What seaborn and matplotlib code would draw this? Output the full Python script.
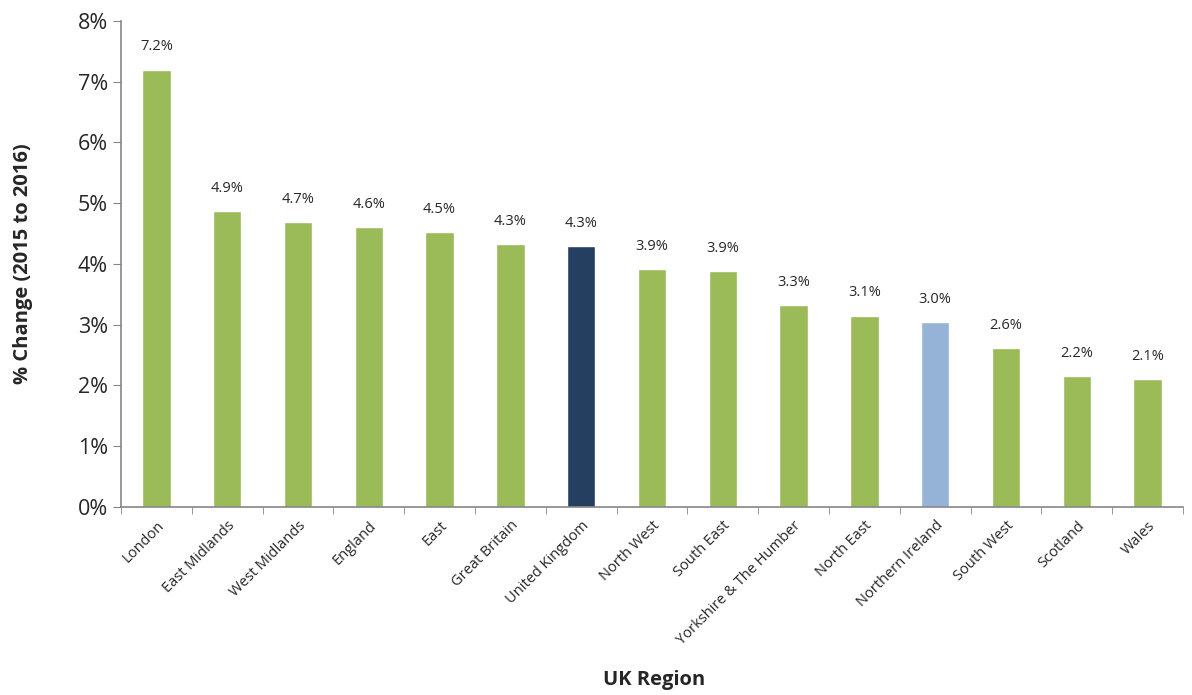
import pandas as pd
import seaborn as sns
from matplotlib import pyplot as plt
from matplotlib.ticker import FixedLocator, PercentFormatter

regions = ["London", "East Midlands", "West Midlands", "England", "East",
           "Great Britain", "United Kingdom", "North West", "South East",
           "Yorkshire & The Humber", "North East", "Northern Ireland",
           "South West", "Scotland", "Wales"]
change = [7.2, 4.87, 4.69, 4.61, 4.52, 4.33, 4.30, 3.91, 3.88, 3.32, 3.15,
          3.05, 2.61, 2.16, 2.11]
labels = ["7.2%", "4.9%", "4.7%", "4.6%", "4.5%", "4.3%", "4.3%", "3.9%",
          "3.9%", "3.3%", "3.1%", "3.0%", "2.6%", "2.2%", "2.1%"]

green = "#9BBB59"
colors = {r: green for r in regions}
colors["United Kingdom"] = "#243F60"
colors["Northern Ireland"] = "#95B3D7"

df = pd.DataFrame({"region": regions, "change": change})

sns.set_style("white")
plt.rcParams["font.family"] = ["Open Sans", "DejaVu Sans"]

fig = plt.figure(figsize=(11.92, 6.95), dpi=100)
ax = fig.add_axes([0.1015, 0.2705, 0.891, 0.6993])

sns.barplot(data=df, x="region", y="change", hue="region", palette=colors,
            legend=False, width=0.4, saturation=1, ax=ax)

for i, (v, t) in enumerate(zip(change, labels)):
    ax.text(i, v + 0.25, t, ha="center", va="bottom", fontsize=10.5)

ax.set_ylim(0, 8)
ax.set_xlim(-0.5, len(regions) - 0.5)
ax.set_yticks(range(0, 9))
ax.yaxis.set_major_formatter(PercentFormatter(decimals=0))
ax.tick_params(axis="y", labelsize=15.5, length=6, color="#868686", left=True)
ax.tick_params(axis="x", which="major", length=0, labelsize=10.5, pad=8)
ax.xaxis.set_minor_locator(FixedLocator([i - 0.5 for i in range(len(regions) + 1)]))
ax.tick_params(axis="x", which="minor", length=5, color="#868686", bottom=True)
for lab in ax.get_xticklabels():
    lab.set_rotation(45)
    lab.set_ha("right")
    lab.set_rotation_mode("anchor")

for s in ["top", "right"]:
    ax.spines[s].set_visible(False)
for s in ["left", "bottom"]:
    ax.spines[s].set_color("#868686")
    ax.spines[s].set_linewidth(1.2)

ax.set_xlabel("")
ax.set_ylabel("")
fig.text(0.5485, 0.022, "UK Region", fontsize=14.5, fontweight="bold",
         ha="center", va="center")
fig.text(0.019, 0.62, "% Change (2015 to 2016)", fontsize=14.5, fontweight="bold",
         ha="center", va="center", rotation=90)

fig.savefig("out.png", dpi=100)
